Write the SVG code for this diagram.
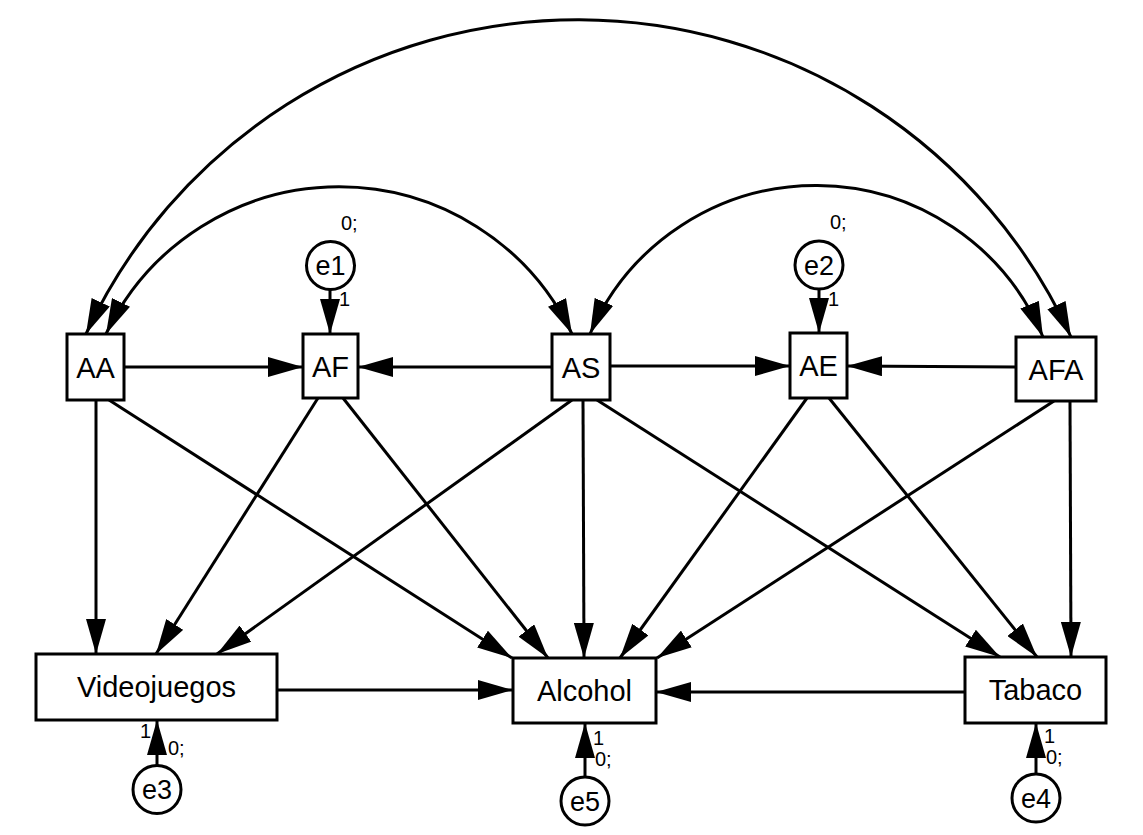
<svg xmlns="http://www.w3.org/2000/svg" width="1143" height="835" viewBox="0 0 1143 835">
<style>
.box{fill:#fff;stroke:#000;stroke-width:3}
.err{fill:#fff;stroke:#000;stroke-width:3}
.lbl{font-family:"Liberation Sans",Arial,sans-serif;font-size:29px;fill:#000;text-anchor:middle}
.elbl{font-family:"Liberation Sans",Arial,sans-serif;font-size:27px;fill:#000;text-anchor:middle}
.sm{font-family:"Liberation Sans",Arial,sans-serif;font-size:20px;fill:#000}
.c{fill:none;stroke:#000;stroke-width:3;marker-end:url(#ah)}
.cc{fill:none;stroke:#000;stroke-width:3;marker-start:url(#ah);marker-end:url(#ah)}
</style>
<defs>
<marker id="ah" markerUnits="userSpaceOnUse" markerWidth="35" markerHeight="20" viewBox="0 0 35 20" refX="35" refY="10" orient="auto-start-reverse">
<path d="M0,0 L35,10 L0,20 z" fill="#000"/>
</marker>
</defs>
<rect width="1143" height="835" fill="#fff"/>
<g id="connectors">
<path class="cc" d="M86,334 A542,542 0 0 1 1071,337"/>
<path class="cc" d="M106,334 A258,258 0 0 1 572,334"/>
<path class="cc" d="M590,334 A246,246 0 0 1 1043,337"/>
<path class="c" d="M124,367 L303,367"/>
<path class="c" d="M552,367 L358,367"/>
<path class="c" d="M610,366 L790,366"/>
<path class="c" d="M1016,367 L847,366"/>
<path class="c" d="M96,400 L96,654"/>
<path class="c" d="M109,400 L512,658"/>
<path class="c" d="M318,398 L156,654"/>
<path class="c" d="M343,398 L548,658"/>
<path class="c" d="M572,400 L217,654"/>
<path class="c" d="M583,400 L584,658"/>
<path class="c" d="M597,400 L1000,657"/>
<path class="c" d="M807,398 L620,658"/>
<path class="c" d="M829,398 L1037,657"/>
<path class="c" d="M1054,401 L657,658"/>
<path class="c" d="M1070,401 L1071,657"/>
<path class="c" d="M277,690 L513,690"/>
<path class="c" d="M965,692 L656,692"/>
<path class="c" d="M330,290 L330,334"/>
<path class="c" d="M819,289 L819,333"/>
<path class="c" d="M157,765 L157,720"/>
<path class="c" d="M585,777 L585,723"/>
<path class="c" d="M1036,774 L1036,723"/>
</g>
<g id="AA"><rect class="box" x="67" y="334" width="57" height="66"/><text class="lbl" x="95.5" y="377.5">AA</text></g>
<g id="AF"><rect class="box" x="303" y="334" width="55" height="64"/><text class="lbl" x="330.5" y="376.5">AF</text></g>
<g id="AS"><rect class="box" x="552" y="334" width="58" height="66"/><text class="lbl" x="581" y="377.5">AS</text></g>
<g id="AE"><rect class="box" x="790" y="333" width="57" height="65"/><text class="lbl" x="818.5" y="376">AE</text></g>
<g id="AFA"><rect class="box" x="1016" y="337" width="80" height="64"/><text class="lbl" x="1056" y="379.5">AFA</text></g>
<g id="Videojuegos"><rect class="box" x="36" y="654" width="241" height="66"/><text class="lbl" x="156.5" y="697">Videojuegos</text></g>
<g id="Alcohol"><rect class="box" x="513" y="658" width="143" height="65"/><text class="lbl" x="584.5" y="701">Alcohol</text></g>
<g id="Tabaco"><rect class="box" x="965" y="657" width="141" height="66"/><text class="lbl" x="1035.5" y="700">Tabaco</text></g>
<g id="e1"><circle class="err" cx="330.5" cy="265.5" r="24"/><text class="elbl" x="330.5" y="275">e1</text><text class="sm" x="341" y="230">0;</text><text class="sm" x="339" y="306">1</text></g>
<g id="e2"><circle class="err" cx="819" cy="265" r="24"/><text class="elbl" x="819" y="274.5">e2</text><text class="sm" x="830" y="229">0;</text><text class="sm" x="828" y="306">1</text></g>
<g id="e3"><circle class="err" cx="157" cy="789.5" r="24"/><text class="elbl" x="157" y="799">e3</text><text class="sm" x="140" y="738">1</text><text class="sm" x="168" y="755">0;</text></g>
<g id="e5"><circle class="err" cx="585" cy="801" r="24"/><text class="elbl" x="585" y="810.5">e5</text><text class="sm" x="593" y="745">1</text><text class="sm" x="595" y="766">0;</text></g>
<g id="e4"><circle class="err" cx="1036" cy="798" r="24"/><text class="elbl" x="1036" y="807.5">e4</text><text class="sm" x="1044" y="743">1</text><text class="sm" x="1046" y="764">0;</text></g>
</svg>
